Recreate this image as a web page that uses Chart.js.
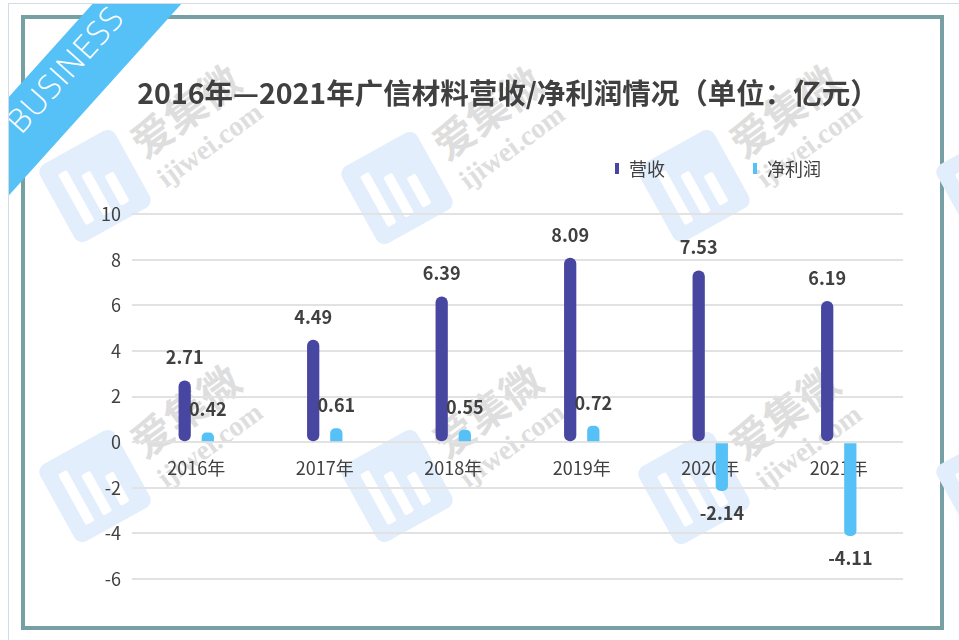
<!DOCTYPE html>
<html lang="zh-CN">
<head>
<meta charset="utf-8">
<title>广信材料营收/净利润情况</title>
<script src="https://cdn.jsdelivr.net/npm/chart.js@4.4.1/dist/chart.umd.min.js"></script>
<style>
  html, body { margin: 0; padding: 0; background: #fff; }
  body { width: 959px; height: 640px; position: relative; overflow: hidden; font-family: "Noto Sans CJK SC", sans-serif; }
  .outer { position: absolute; left: 8px; top: 3px; right: 0; bottom: 0; border-top: 1px solid #d3dbe5; border-left: 1px solid #d3dbe5; overflow: hidden; }
  .frame { position: absolute; left: 12px; top: 11px; width: 915px; height: 607px; border: 4px solid #76a0a4; }
  #marks { position: absolute; left: 0; top: 0; width: 959px; height: 640px; overflow: hidden; }
  .logo { position: absolute; width: 86px; height: 88px; margin: -44px 0 0 -43px; border-radius: 9px; background: #e2eefc; transform: rotate(-29deg); }
  .logo i { position: absolute; bottom: 14px; width: 10px; background: #fff; border-radius: 2px; }
  .wm1, .wm2 { position: absolute; white-space: nowrap; color: #dedede; transform: translate(-50%, -50%) rotate(-36deg); }
  .wm1 { font: 700 41px "Noto Sans CJK SC", sans-serif; }
  .wm2 { font: 700 28px "Liberation Serif", serif; }
  .ribbon { position: absolute; left: -107px; top: 39px; width: 340px; height: 66px; line-height: 66px; background: #56c1f6; color: #fff; text-align: center; font: 300 33px "Open Sans", sans-serif; letter-spacing: 1px; transform: rotate(-48deg); }
  #chart { position: absolute; left: 41px; top: 0; width: 918px; height: 640px; }
  #legend { position: absolute; left: 615px; top: 157px; display: flex; font-size: 18px; line-height: 22px; color: #404040; }
  #legend span { display: flex; align-items: center; margin-right: 88px; }
  #legend b { display: inline-block; width: 4px; height: 11px; margin-right: 10px; }
</style>
</head>
<body>
<div class="outer"><div class="frame"></div></div>
<div id="marks"></div>
<div class="outer" style="border-color: transparent;"><div class="ribbon">BUSINESS</div></div>
<canvas id="chart" width="918" height="640"></canvas>
<div id="legend"></div>
<script>
// 数据（单位：亿元）
const categories = ['2016年', '2017年', '2018年', '2019年', '2020年', '2021年'];
const revenue = [2.71, 4.49, 6.39, 8.09, 7.53, 6.19];
const netProfit = [0.42, 0.61, 0.55, 0.72, -2.14, -4.11];
const yTicks = [-6, -4, -2, 0, 2, 4, 6, 8, 10];

// 水印 "爱集微 ijiwei.com"
const markSpots = [[95, 186], [397, 188], [694, 186], [992, 186], [95, 486], [397, 486], [694, 488], [992, 486]];
const marks = document.getElementById('marks');
markSpots.forEach(([x, y]) => {
    marks.insertAdjacentHTML('beforeend',
        `<div class="logo" style="left:${x}px;top:${y}px">
            <i style="left:16px;height:58px"></i><i style="left:36px;height:46px"></i><i style="left:56px;height:34px"></i>
         </div>
         <div class="wm1" style="left:${x + 89}px;top:${y - 77}px">爱集微</div>
         <div class="wm2" style="left:${x + 115}px;top:${y - 41}px">ijiwei.com</div>`);
});

Chart.defaults.font.family = '"Noto Sans CJK SC", sans-serif';
Chart.defaults.color = '#404040';

// 柱子上方/下方的数值标签
const valueLabels = {
    id: 'valueLabels',
    afterDatasetsDraw(chart) {
        const ctx = chart.ctx;
        ctx.save();
        ctx.font = 'bold 18px "Noto Sans CJK SC", sans-serif';
        ctx.fillStyle = '#404040';
        ctx.textAlign = 'center';
        ctx.textBaseline = 'middle';
        chart.data.datasets.forEach((ds, i) => {
            chart.getDatasetMeta(i).data.forEach((bar, j) => {
                const v = ds.data[j];
                const y = v >= 0 ? bar.y - 23 : bar.y + 22;
                ctx.fillText(v.toFixed(2), bar.x, y);
            });
        });
        ctx.restore();
    }
};

// 标题按整个画布居中（不受右侧留白影响）
const titleFullWidth = {
    id: 'titleFullWidth',
    afterLayout(chart) {
        chart.titleBlock.left = 16;
        chart.titleBlock.right = chart.width;
    }
};

const chart = new Chart(document.getElementById('chart'), {
    type: 'bar',
    data: {
        labels: categories,
        datasets: [{
            label: '营收',
            data: revenue,
            backgroundColor: '#4747a1',
            borderRadius: 6,
            borderSkipped: false,
            categoryPercentage: 0.36,
            barPercentage: 0.53
        }, {
            label: '净利润',
            data: netProfit,
            backgroundColor: '#56c1f6',
            borderRadius: 5,
            borderSkipped: 'start',
            categoryPercentage: 0.36,
            barPercentage: 0.53
        }]
    },
    options: {
        responsive: false,
        animation: false,
        layout: { padding: { top: 0, left: 0, right: 56, bottom: 61 } },
        plugins: {
            title: {
                display: true,
                text: '2016年—2021年广信材料营收/净利润情况（单位：亿元）',
                color: '#404040',
                font: { size: 28.5, weight: 'bold', lineHeight: 1.2 },
                padding: { top: 76, bottom: 104 }
            },
            legend: { display: false },
            tooltip: { enabled: false }
        },
        scales: {
            x: {
                position: { y: 0 },
                z: 1,
                grid: { display: false },
                border: { display: false },
                ticks: { font: { size: 18 }, padding: 7 }
            },
            y: {
                min: yTicks[0],
                max: yTicks[yTicks.length - 1],
                afterBuildTicks: scale => { scale.ticks = yTicks.map(v => ({ value: v })); },
                afterFit: scale => { scale.width = 91; },
                grid: { color: '#e2e2e2', lineWidth: 2, drawTicks: false },
                border: { display: false },
                ticks: { font: { size: 18 }, padding: 11 }
            }
        }
    },
    plugins: [valueLabels, titleFullWidth]
});

// 图例（由数据集生成）
document.getElementById('legend').innerHTML = chart.data.datasets
    .map(ds => `<span><b style="background:${ds.backgroundColor}"></b>${ds.label}</span>`)
    .join('');
</script>
</body>
</html>
